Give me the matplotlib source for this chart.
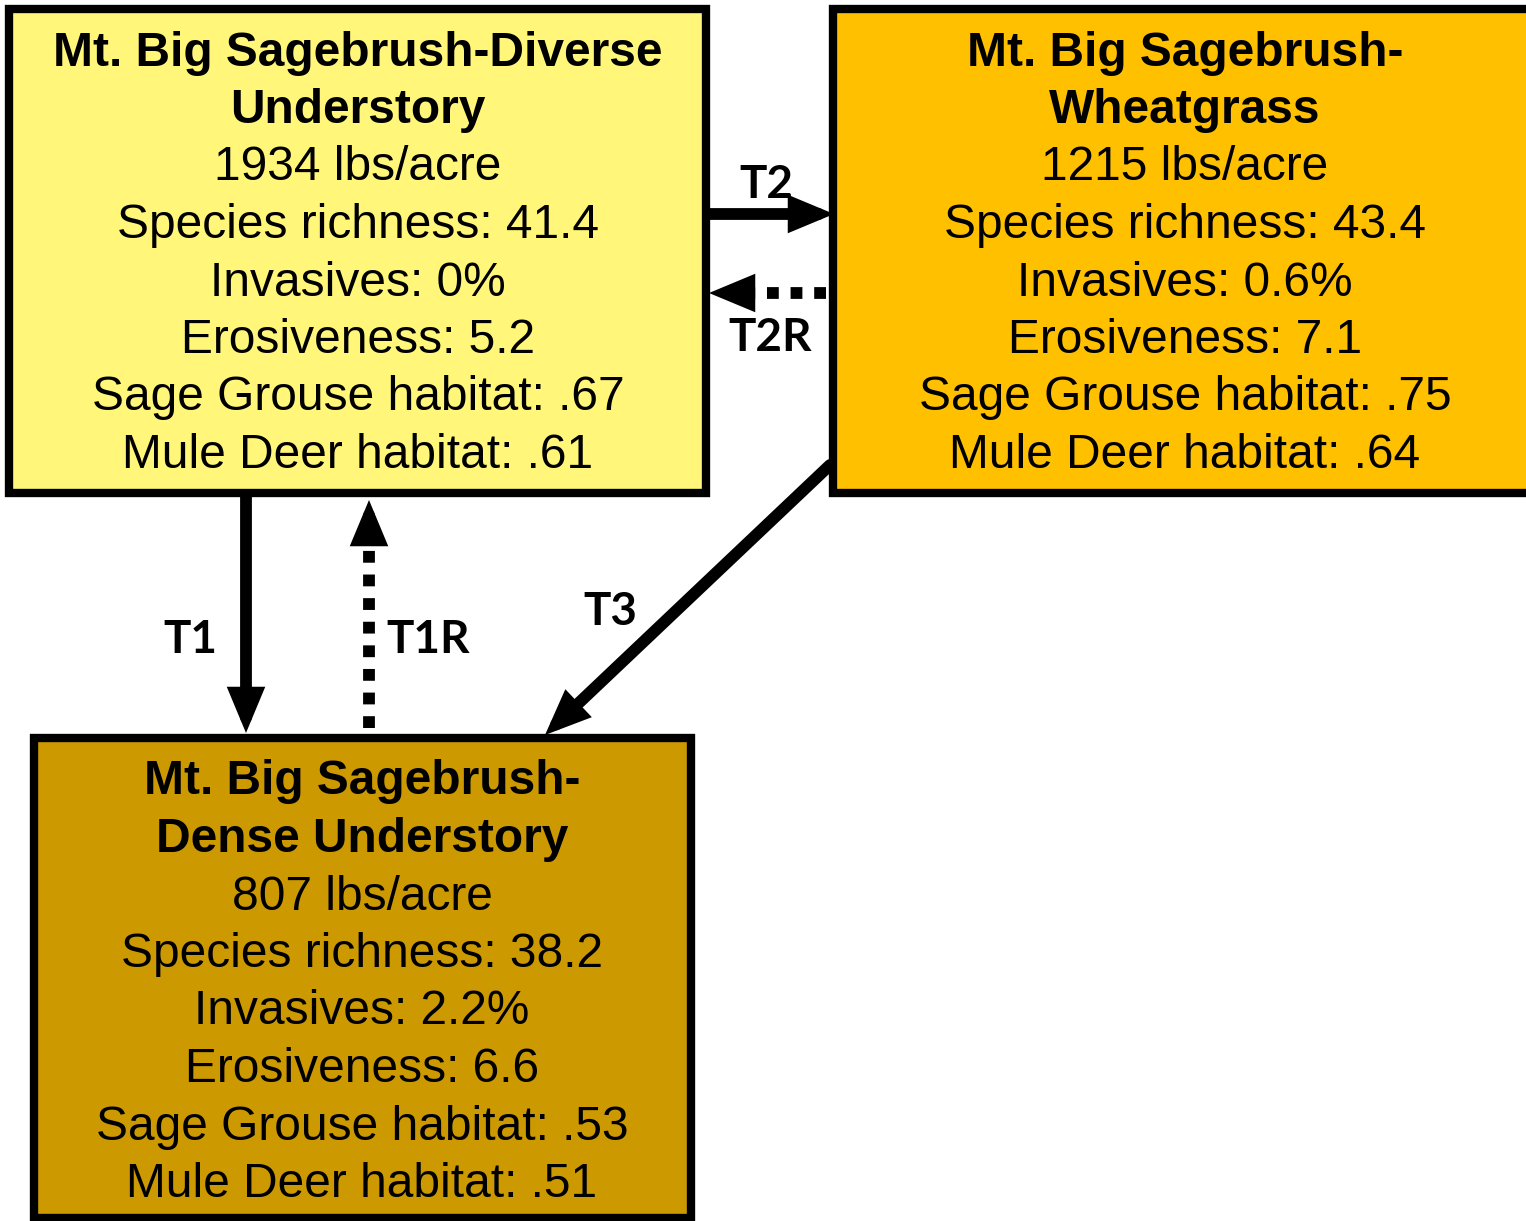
import matplotlib.pyplot as plt
from matplotlib.patches import Rectangle

# state boxes: title lines, then attribute lines
titles = [["Mt. Big Sagebrush-Diverse", "Understory"],
          ["Mt. Big Sagebrush-", "Wheatgrass"],
          ["Mt. Big Sagebrush-", "Dense Understory"]]
production = ["1934 lbs/acre", "1215 lbs/acre", "807 lbs/acre"]
richness = [41.4, 43.4, 38.2]
invasives = ["0%", "0.6%", "2.2%"]
erosiveness = [5.2, 7.1, 6.6]
grouse = [".67", ".75", ".53"]
deer = [".61", ".64", ".51"]
colors = ["#FFF67A", "#FFC000", "#CC9900"]

# box layout (pixel units): x0, y0, x1, y1, text centre x
boxes = [(9, 9, 706, 493, 358), (833, 9, 1532, 493, 1185), (34, 738, 691, 1218, 362)]

fig = plt.figure(figsize=(15.26, 12.21), dpi=100)
ax = fig.add_axes([0, 0, 1, 1])
ax.set_xlim(0, 1526)
ax.set_ylim(1221, 0)
ax.axis('off')

body_font = 'Liberation Sans'
step = 57.5
for i, (x0, y0, x1, y1, cx) in enumerate(boxes):
    ax.add_patch(Rectangle((x0, y0), x1 - x0, y1 - y0, facecolor=colors[i],
                           edgecolor='black', lw=6, joinstyle='miter', zorder=3))
    lines = titles[i] + [production[i],
                         "Species richness: %.1f" % richness[i],
                         "Invasives: " + invasives[i],
                         "Erosiveness: %.1f" % erosiveness[i],
                         "Sage Grouse habitat: " + grouse[i],
                         "Mule Deer habitat: " + deer[i]]
    for j, s in enumerate(lines):
        ax.text(cx, y0 + 44 + j * step, s, ha='center', va='center',
                fontsize=34.5, family=body_font,
                fontweight='bold' if j < 2 else 'normal', zorder=4)

head = dict(arrowstyle='-|>,head_length=0.36,head_width=0.15', lw=8.5,
            color='black', shrinkA=0, shrinkB=0, mutation_scale=50,
            joinstyle='miter')

def solid(p0, p1):
    ax.annotate("", xy=p1, xytext=p0, arrowprops=head, zorder=2)

def dotted(p0, p1, pmid):
    ax.plot([p0[0], pmid[0]], [p0[1], pmid[1]], color='black', lw=8.5,
            linestyle=(0, (1, 1)), dash_capstyle='butt', zorder=2)
    ax.annotate("", xy=p1, xytext=pmid, arrowprops=head, zorder=2)

solid((246, 495), (246, 733))
dotted((369, 728), (369, 500), (369, 532))
solid((708, 214), (834, 214))
dotted((826, 293), (709, 293), (738, 293))
solid((830, 465), (545, 735))

label_font = 'Lato'
labels = ["T1", "T1R", "T2", "T2R", "T3"]
label_pos = [(190, 640), (428, 640), (766, 185), (770, 338), (610, 612)]
for s, (x, y) in zip(labels, label_pos):
    ax.text(x, y, s, ha='center', va='center', fontsize=33,
            fontweight='bold', family=label_font)

fig.savefig('out.png', dpi=100)
